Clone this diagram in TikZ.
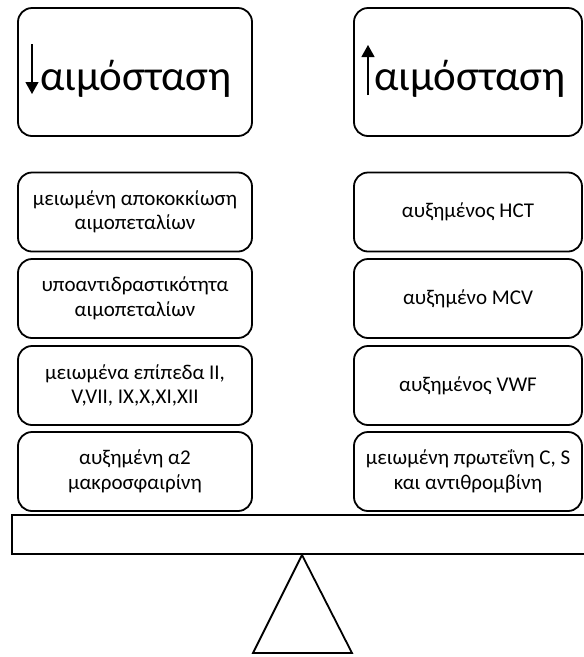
\documentclass[tikz,border=0pt]{standalone}
\usepackage{fontspec}
\setmainfont{Carlito}
\usetikzlibrary{arrows.meta}
\begin{document}
\begin{tikzpicture}[x=1pt,y=-1pt,
  bigbox/.style={draw, line width=1.8pt, rounded corners=14pt, minimum height=128pt, inner sep=0pt},
  smallbox/.style={draw, line width=1.8pt, rounded corners=14pt, minimum height=79pt, align=center, inner sep=0pt, font=\fontsize{21}{24.5}\selectfont},
  bigtext/.style={anchor=base, inner sep=0pt, font=\fontsize{43}{50}\selectfont},
  arr/.style={line width=1.2pt, -{Triangle[width=13pt,length=12pt]}},
  solid shape/.style={draw, line width=1.8pt}
]
\useasboundingbox (0,0) rectangle (584,657);
% top boxes
\node[bigbox, minimum width=234pt] (L0) at (135,72) {};
\node[bigbox, minimum width=228pt] (R0) at (468,72) {};
\node[bigtext] (L0t) at (136,90) {αιμόσταση};
\node[bigtext] (R0t) at (470,90) {αιμόσταση};
\coordinate (la1) at (32,44);
\coordinate (la2) at (32,94);
\coordinate (ra1) at (368,95);
\coordinate (ra2) at (368,45);
\draw[arr] (la1) -- (la2);
\draw[arr] (ra1) -- (ra2);
% left column
\node[smallbox, minimum width=234pt] (L1) at (135,212) {μειωμένη αποκοκκίωση\\αιμοπεταλίων};
\node[smallbox, minimum width=234pt] (L2) at (135,298.5) {υποαντιδραστικότητα\\αιμοπεταλίων};
\node[smallbox, minimum width=234pt] (L3) at (135,385.5) {μειωμένα επίπεδα ΙΙ,\\V,VII, IX,X,XI,XII};
\node[smallbox, minimum width=234pt] (L4) at (135,471.5) {αυξημένη α2\\μακροσφαιρίνη};
% right column
\node[smallbox, minimum width=228pt] (R1) at (468,212) {αυξημένος HCT};
\node[smallbox, minimum width=228pt] (R2) at (468,298.5) {αυξημένο MCV};
\node[smallbox, minimum width=228pt] (R3) at (468,385.5) {αυξημένος VWF};
\node[smallbox, minimum width=228pt] (R4) at (468,471.5) {μειωμένη πρωτεΐνη C, S\\και αντιθρομβίνη};
% balance
\draw[solid shape] (12,515) rectangle (600,554);
\draw[solid shape] (253,653) -- (302,555) -- (352,653) -- cycle;
\end{tikzpicture}
\end{document}
